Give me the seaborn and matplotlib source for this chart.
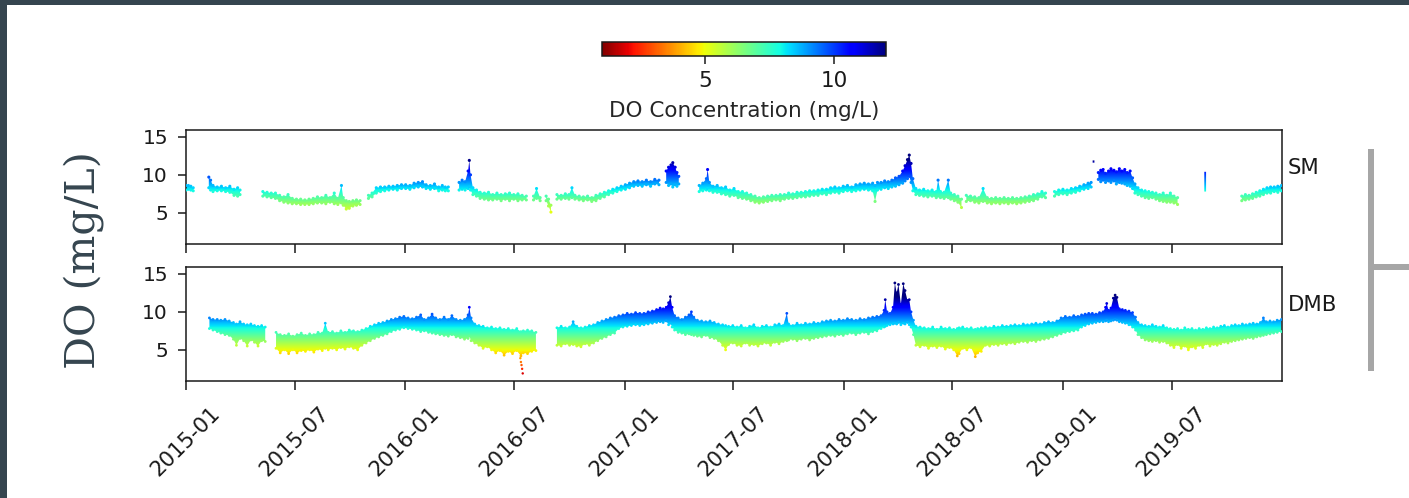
import numpy as np
import pandas as pd
import matplotlib
matplotlib.use("Agg")
import matplotlib.pyplot as plt
import matplotlib.dates as mdates
from matplotlib.colors import Normalize
from matplotlib.cm import ScalarMappable
from matplotlib.path import Path
from matplotlib.patches import Rectangle
import seaborn as sns

START = pd.Timestamp("2015-01-01")

# ---------------- SM station: daily low / high DO (days since 2015-01-01) ----------------
sm_day = [0, 4, 8, 12,
          38, 41, 45, 52, 59, 66, 73, 80, 86, 90,
          128, 135, 142, 149, 156, 163, 170, 177, 184, 191, 198, 205, 212, 219, 226, 233,
          240, 247, 253, 259, 262, 267, 272, 278, 284, 290,
          304, 310, 317, 324, 331, 338, 345, 352, 359, 366, 373, 380, 387, 394, 400, 407,
          414, 421, 427, 432, 437,
          455, 460, 465, 470, 472, 474, 478, 484, 490, 497, 504, 511, 518, 525, 532, 539,
          546, 553, 560, 567,
          579, 584, 590,
          600, 604, 608,
          618, 625, 632, 638, 643, 648, 655, 662, 669, 676, 683, 690, 697, 704, 711, 718,
          725, 732, 739, 746, 753, 760, 767, 774, 781, 788,
          800, 804, 808, 811, 815, 818, 821,
          855, 861, 867, 869, 872, 878, 885, 892, 899, 906, 913, 920, 927, 934, 941, 948,
          955, 962, 969, 976, 983, 990, 997, 1004, 1011, 1018, 1025, 1032, 1039, 1046,
          1053, 1060, 1067, 1074, 1081, 1088, 1095, 1102, 1109, 1116, 1123, 1130, 1137,
          1144, 1148, 1152, 1158, 1164, 1170, 1176, 1182, 1188, 1194, 1198, 1202, 1205,
          1208, 1211, 1216, 1222, 1229, 1236, 1243, 1250, 1253, 1257, 1263, 1270, 1274,
          1280, 1286, 1292,
          1300, 1307, 1314, 1321, 1328, 1335, 1342, 1349, 1356, 1363, 1370, 1377, 1384,
          1391, 1398, 1405, 1412, 1419, 1426, 1432,
          1447, 1454, 1461, 1468, 1475, 1482, 1489, 1496, 1503, 1508,
          1520, 1524, 1528, 1532, 1537, 1541, 1546, 1550, 1555, 1559, 1564, 1568, 1573,
          1577, 1581, 1586, 1592, 1598, 1604, 1610, 1616, 1622, 1628, 1634, 1640, 1646, 1652,
          1759, 1765, 1771, 1777, 1783, 1789, 1795, 1801, 1807, 1813, 1819, 1825]
sm_lo = [8.0, 8.1, 8.0, 7.9,
         8.3, 8.0, 7.8, 7.9, 7.9, 7.8, 7.7, 7.3, 7.2, 7.4,
         7.2, 7.1, 7.0, 6.9, 6.6, 6.4, 6.3, 6.2, 6.2, 6.1, 6.1, 6.1, 6.2, 6.3, 6.3, 6.2,
         6.4, 6.2, 6.1, 6.3, 6.0, 5.5, 5.6, 5.9, 6.0, 6.1,
         6.9, 7.1, 7.6, 7.8, 7.9, 8.0, 8.1, 8.0, 8.2, 8.2, 8.1, 8.3, 8.4, 8.4, 8.2, 8.1,
         8.2, 7.9, 8.0, 7.9, 7.9,
         8.0, 8.1, 8.0, 8.2, 8.4, 8.0, 7.4, 7.2, 6.9, 6.8, 6.7, 6.7, 6.8, 6.6, 6.8, 6.6,
         6.8, 6.6, 6.7, 6.7,
         6.7, 6.9, 6.6,
         6.6, 5.9, 5.1,
         6.8, 6.8, 6.9, 6.8, 7.0, 6.8, 6.7, 6.6, 6.7, 6.5, 6.6, 6.9, 7.1, 7.4, 7.6, 7.8,
         8.0, 8.1, 8.3, 8.5, 8.6, 8.5, 8.7, 8.5, 8.8, 8.7,
         9.0, 8.6, 8.8, 8.4, 8.7, 8.5, 8.8,
         7.8, 7.9, 8.0, 8.2, 7.9, 7.7, 7.7, 7.5, 7.4, 7.2, 7.3, 7.0, 6.9, 6.8, 6.6, 6.4,
         6.3, 6.4, 6.5, 6.6, 6.7, 6.6, 6.8, 6.9, 6.9, 7.0, 7.1, 7.1, 7.2, 7.3,
         7.3, 7.5, 7.4, 7.6, 7.7, 7.6, 7.8, 7.9, 7.8, 7.9, 8.0, 8.1, 8.0,
         7.9, 6.5, 8.0, 8.1, 8.3, 8.2, 8.4, 8.5, 8.7, 8.9, 9.2, 9.5, 9.8,
         9.0, 7.9, 7.4, 7.3, 7.2, 7.1, 7.2, 7.0, 7.2, 7.0, 6.9, 7.0, 6.8,
         6.6, 6.4, 5.7,
         6.5, 6.6, 6.4, 6.3, 6.5, 6.3, 6.2, 6.3, 6.2, 6.3, 6.2, 6.3, 6.2,
         6.3, 6.4, 6.5, 6.6, 6.8, 7.1, 7.0,
         7.2, 7.4, 7.5, 7.4, 7.6, 7.7, 7.9, 8.1, 8.2, 8.4,
         9.4, 9.1, 9.3, 9.0, 9.2, 9.0, 9.2, 8.8, 9.0, 8.9, 8.8, 8.6, 8.5,
         8.2, 7.6, 7.4, 7.2, 7.0, 6.9, 7.0, 6.8, 6.6, 6.5, 6.4, 6.4, 6.3, 6.1,
         6.6, 6.7, 6.8, 6.9, 7.1, 7.2, 7.4, 7.6, 7.6, 7.8, 7.7, 7.9]
sm_hi = [8.6, 8.6, 8.5, 8.3,
         9.7, 9.3, 8.6, 8.4, 8.5, 8.3, 8.5, 8.1, 8.3, 8.0,
         7.8, 7.7, 7.6, 7.6, 7.3, 7.1, 7.4, 6.9, 6.8, 6.8, 6.7, 6.8, 6.9, 7.1, 7.0, 7.3,
         7.0, 7.6, 6.9, 8.6, 7.0, 6.6, 6.5, 6.6, 6.7, 6.6,
         7.3, 7.6, 8.3, 8.4, 8.4, 8.5, 8.5, 8.6, 8.7, 8.7, 8.6, 8.9, 9.0, 9.1, 8.7, 8.6,
         8.8, 8.4, 8.6, 8.4, 8.4,
         9.0, 9.3, 9.1, 10.5, 11.9, 10.0, 8.3, 8.0, 7.7, 7.6, 7.7, 7.4, 7.6, 7.4, 7.5, 7.6,
         7.4, 7.5, 7.3, 7.2,
         7.2, 8.2, 7.0,
         7.2, 6.8, 6.0,
         7.4, 7.3, 7.5, 7.4, 8.3, 7.3, 7.2, 7.1, 7.2, 7.0, 7.3, 7.5, 7.7, 7.9, 8.1, 8.3,
         8.5, 8.7, 8.9, 9.1, 9.2, 9.1, 9.3, 9.1, 9.4, 9.3,
         10.5, 11.0, 11.3, 11.6, 11.0, 10.3, 9.8,
         8.6, 8.9, 9.5, 10.7, 9.0, 8.5, 8.6, 8.3, 8.4, 8.0, 8.2, 7.8, 7.8, 7.6, 7.4, 7.2,
         7.0, 7.1, 7.2, 7.3, 7.3, 7.4, 7.4, 7.6, 7.5, 7.7, 7.7, 7.8, 7.9, 7.9,
         8.0, 8.1, 8.1, 8.3, 8.4, 8.3, 8.5, 8.6, 8.4, 8.7, 8.8, 8.9, 8.8,
         8.9, 8.6, 9.0, 9.0, 9.2, 9.1, 9.3, 9.6, 9.8, 10.5, 11.2, 12.0, 12.6,
         11.5, 9.5, 8.2, 8.0, 8.1, 7.9, 8.0, 7.8, 9.3, 7.8, 7.7, 9.3, 7.6,
         7.4, 7.2, 6.8,
         7.3, 7.2, 7.1, 7.0, 8.2, 7.0, 6.9, 7.0, 6.9, 7.0, 6.9, 7.0, 6.9,
         7.0, 7.1, 7.2, 7.4, 7.5, 7.8, 7.6,
         7.8, 8.0, 8.1, 8.0, 8.2, 8.3, 8.5, 8.7, 8.9, 9.0,
         10.3, 10.6, 10.7, 10.2, 10.5, 10.8, 10.6, 10.4, 10.8, 10.5, 10.7, 10.3, 10.5,
         9.6, 8.8, 8.3, 8.0, 7.9, 7.8, 7.7, 7.6, 7.4, 7.6, 7.3, 7.6, 7.2, 7.0,
         7.2, 7.4, 7.3, 7.5, 7.7, 7.9, 8.1, 8.3, 8.4, 8.4, 8.5, 8.6]
# isolated SM readings (single short bursts)
sm_spike_day = [1512, 1698]
sm_spike_lo = [11.6, 7.8]
sm_spike_hi = [11.9, 10.4]

# ---------------- DMB station ----------------
dmb_day = [39, 45, 52, 58, 65, 72, 79, 84, 90, 96, 102, 108, 114, 120, 126, 132,
           150, 157, 164, 171, 178, 185, 192, 199, 206, 213, 220, 227, 232, 237, 244, 251,
           258, 265, 272, 279, 286, 293, 300, 307, 314, 321, 328, 335, 342, 349, 356, 363,
           370, 377, 384, 391, 397, 404, 410, 416, 423, 430, 437, 443, 450, 457, 464, 470,
           472, 475, 481, 488, 495, 502, 509, 516, 523, 530, 537, 544, 551, 558, 562, 569,
           576, 583,
           618, 625, 632, 639, 645, 651, 658, 665, 672, 679, 686, 693, 700, 707, 714, 721,
           728, 735, 742, 749, 756, 763, 770, 777, 784, 790, 795, 800, 804, 807, 810, 814,
           820, 826, 832, 838, 842, 846, 852, 859, 866, 873, 880, 887, 894, 899, 904, 911,
           918, 925, 932, 939, 946, 953, 960, 967, 974, 981, 988, 995, 1001, 1004, 1011,
           1018, 1025, 1032, 1039, 1046, 1053, 1060, 1067, 1074, 1081, 1088, 1095, 1102,
           1109, 1116, 1123, 1130, 1137, 1144, 1151, 1158, 1163, 1165, 1168, 1173, 1178,
           1181, 1184, 1187, 1191, 1195, 1198, 1202, 1205, 1208, 1212, 1216, 1223, 1230,
           1237, 1244, 1251, 1258, 1265, 1272, 1279, 1285, 1288, 1294, 1301, 1308, 1315,
           1319, 1325, 1332, 1339, 1346, 1353, 1360, 1367, 1374, 1381, 1388, 1395, 1402,
           1409, 1416, 1423, 1430, 1437, 1444, 1451, 1458, 1465, 1472, 1479, 1486, 1492,
           1498, 1504, 1510, 1516, 1522, 1528, 1532, 1534, 1537, 1541, 1545, 1548, 1551,
           1555, 1560, 1565, 1571, 1577, 1582, 1586, 1592, 1598, 1604, 1610, 1616, 1622,
           1628, 1634, 1640, 1646, 1652, 1658, 1664, 1670, 1676, 1682, 1688, 1694, 1700,
           1706, 1712, 1718, 1724, 1730, 1736, 1742, 1748, 1754, 1760, 1766, 1772, 1778,
           1784, 1790, 1795, 1800, 1806, 1812, 1818, 1825]
dmb_lo = [7.8, 7.6, 7.4, 7.2, 7.0, 6.9, 6.4, 5.6, 6.5, 6.2, 5.5, 6.3, 6.0, 5.5, 6.2, 6.1,
          5.2, 4.6, 5.0, 4.5, 5.0, 4.6, 4.9, 4.8, 5.0, 4.7, 5.1, 4.9, 5.2, 5.0, 5.2, 5.0,
          5.3, 5.1, 5.4, 5.2, 5.0, 5.6, 5.9, 6.2, 6.5, 6.7, 6.9, 7.1, 7.4, 7.6, 7.7, 7.9,
          7.8, 7.7, 7.6, 7.4, 7.5, 7.3, 7.2, 7.1, 7.0, 6.9, 6.8, 7.0, 6.7, 6.6, 6.4, 6.5,
          6.8, 6.2, 5.9, 5.6, 5.2, 5.4, 5.0, 4.6, 4.9, 4.3, 4.8, 4.5, 4.9, 4.2, 4.6, 4.5,
          4.8, 4.9,
          5.6, 5.5, 5.8, 5.6, 5.7, 5.5, 5.4, 5.8, 5.6, 5.9, 6.2, 6.5, 6.7, 7.0, 7.2, 7.8,
          8.0, 8.1, 8.2, 8.3, 8.2, 8.3, 8.4, 8.5, 8.6, 8.7, 8.6, 8.8, 8.3, 8.5, 8.0, 7.6,
          7.3, 7.2, 7.0, 7.1, 7.0, 6.9, 6.8, 6.7, 6.9, 6.6, 6.5, 6.2, 5.6, 5.0, 5.7, 5.9,
          5.6, 5.5, 5.9, 5.6, 5.7, 5.5, 5.8, 5.9, 5.6, 6.0, 5.8, 6.1, 6.2, 6.3, 6.4,
          6.2, 6.4, 6.5, 6.3, 6.5, 6.6, 6.7, 6.8, 6.9, 6.8, 7.0, 6.9, 7.1,
          7.2, 7.0, 7.2, 7.3, 7.1, 7.4, 7.5, 7.8, 8.0, 8.1, 8.2, 8.3, 8.4,
          8.5, 8.4, 8.6, 8.3, 8.5, 8.4, 8.6, 8.3, 8.0, 7.0, 5.6, 5.4, 5.6,
          5.2, 5.5, 5.3, 5.5, 5.1, 5.3, 5.0, 4.2, 4.5, 5.2, 5.0, 5.3, 4.1,
          4.6, 4.8, 5.6, 5.5, 5.7, 5.6, 5.8, 5.7, 5.9, 5.8, 6.0, 6.1, 6.0,
          6.2, 6.1, 6.3, 6.4, 6.5, 6.7, 6.9, 7.1, 7.3, 7.4, 7.5, 7.6, 8.0,
          8.2, 8.4, 8.5, 8.6, 8.7, 8.7, 8.8, 8.9, 8.7, 8.8, 8.9, 9.0, 8.9,
          8.7, 8.6, 8.5, 8.3, 8.0, 7.6, 7.0, 6.6, 6.3, 6.2, 6.1, 6.2, 6.0,
          6.1, 5.9, 5.6, 5.3, 5.7, 5.2, 5.5, 5.0, 5.4, 5.2, 5.6, 5.3, 5.8,
          5.5, 5.7, 5.6, 5.8, 6.0, 5.9, 6.1, 6.2, 6.3, 6.4, 6.5, 6.6, 6.5,
          6.7, 6.8, 6.9, 7.0, 7.1, 7.2, 7.3, 7.4]
dmb_hi = [9.2, 9.0, 9.0, 8.9, 9.0, 8.8, 8.6, 8.4, 8.7, 8.4, 8.3, 8.4, 8.2, 8.1, 8.2, 8.0,
          7.3, 7.0, 6.9, 7.1, 6.8, 7.0, 7.2, 6.9, 7.1, 7.0, 7.3, 7.2, 8.5, 7.3, 7.4, 7.2,
          7.5, 7.3, 7.6, 7.5, 7.4, 7.6, 7.8, 8.1, 8.3, 8.5, 8.6, 8.8, 9.0, 9.1, 9.3, 9.4,
          9.2, 9.1, 9.3, 9.6, 9.0, 9.2, 9.7, 9.2, 9.0, 9.3, 9.0, 9.5, 9.0, 8.9, 9.0, 9.6,
          10.6, 9.2, 8.4, 8.2, 8.1, 7.9, 8.0, 7.8, 7.9, 7.7, 7.8, 7.6, 7.8, 7.4, 7.5, 7.6,
          7.5, 7.3,
          7.9, 8.1, 7.9, 8.0, 8.7, 8.1, 7.9, 8.0, 8.2, 8.3, 8.6, 8.8, 9.0, 9.2, 9.3, 9.5,
          9.6, 9.8, 9.7, 9.9, 9.8, 9.8, 10.0, 10.1, 10.3, 10.5, 10.4, 10.6, 11.2, 12.0,
          10.6, 9.5,
          9.2, 9.0, 9.3, 9.6, 10.0, 9.3, 8.9, 8.8, 8.7, 8.8, 8.6, 8.4, 8.3, 8.2, 8.1, 8.2,
          8.0, 8.2, 7.9, 8.1, 8.3, 7.9, 8.1, 8.2, 8.0, 8.3, 8.4, 8.2, 9.8, 8.4, 8.2,
          8.5, 8.3, 8.5, 8.4, 8.6, 8.5, 8.7, 8.8, 8.9, 8.8, 9.0, 8.9, 9.1,
          9.0, 8.9, 9.1, 9.0, 9.2, 9.3, 9.4, 9.5, 10.2, 11.6, 10.0, 9.8, 10.6,
          13.8, 12.5, 13.6, 11.0, 13.7, 12.8, 11.5, 11.6, 10.0, 8.9, 8.1, 8.0, 7.9,
          7.8, 8.0, 7.7, 8.0, 7.8, 7.9, 7.7, 7.8, 7.9, 8.0, 7.8, 7.9, 7.7,
          7.8, 7.9, 8.0, 7.9, 8.1, 8.0, 8.2, 8.1, 8.2, 8.3, 8.2, 8.4, 8.3,
          8.4, 8.5, 8.4, 8.6, 8.7, 8.6, 8.8, 9.2, 9.4, 9.3, 9.5, 9.4, 9.6,
          9.7, 9.8, 9.8, 9.7, 9.9, 10.0, 10.6, 11.1, 10.2, 10.5, 11.8, 12.2, 11.9,
          10.4, 10.3, 10.2, 10.1, 9.9, 9.3, 8.6, 8.3, 8.2, 8.1, 8.3, 8.1, 8.0,
          8.2, 7.9, 7.8, 7.7, 7.8, 7.6, 7.9, 7.7, 7.8, 7.6, 7.8, 7.7, 7.9,
          7.8, 8.0, 7.9, 8.1, 8.2, 8.0, 8.2, 8.3, 8.2, 8.4, 8.3, 8.4, 8.5,
          8.4, 8.6, 9.2, 8.7, 8.8, 8.7, 8.9, 9.0]
# scattered low readings during the mid-2016 sag
dmb_dot_day = [557, 558, 559, 560, 561]
dmb_dot_val = [3.9, 3.4, 3.0, 2.5, 1.9]

station_names = ["SM", "DMB"]
cbar_ticks = [5, 10]
cbar_label = "DO Concentration (mg/L)"
side_label = "DO (mg/L)"
x_tick_dates = pd.date_range("2015-01-01", "2019-07-01", freq="6MS")
y_ticks = [5, 10, 15]

# ---------------- styling ----------------
sns.set_style("ticks")
plt.rcParams.update({
    "font.family": ["DejaVu Sans"],
    "axes.linewidth": 1.1,
    "axes.edgecolor": "#1a1a1a",
    "xtick.major.size": 6.5, "ytick.major.size": 6.0,
    "xtick.major.width": 1.1, "ytick.major.width": 1.1,
    "xtick.major.pad": 9.0, "ytick.major.pad": 7.0,
    "xtick.color": "#1a1a1a", "ytick.color": "#1a1a1a",
    "text.color": "#1a1a1a",
})
FS_Y = 14.5
FS = 15.3
SLATE = "#35454f"
CMAP = plt.get_cmap("jet_r")
NORM = Normalize(vmin=1, vmax=12)
YLIM = (0.9, 15.9)
XLIM = (pd.Timestamp("2015-01-01"), pd.Timestamp("2020-01-01"))
GAP = 7.5
BURST_HALF_WIDTH = 1.5   # days on each side of an isolated burst

W, H = 1409, 498
fig = plt.figure(figsize=(W / 100, H / 100), dpi=100)
fig.patch.set_facecolor("white")


def fx(px):
    return px / W


def fy(py):
    return 1 - py / H


def to_dates(day):
    return START + pd.to_timedelta(np.asarray(day, float), unit="D")


def draw_band(ax, day, lo, hi, burst_day=(), burst_lo=(), burst_hi=(), size=5):
    day = np.asarray(day, float)
    lo = np.asarray(lo, float)
    hi = np.asarray(hi, float)
    dates = to_dates(day)
    cuts = np.where(np.diff(day) > GAP)[0] + 1
    paths = []
    for idx in np.split(np.arange(len(day)), cuts):
        if len(idx) < 2:
            continue
        poly = ax.fill_between(dates[idx], lo[idx], hi[idx],
                               facecolor="none", edgecolor="none")
        paths.extend(poly.get_paths())
    # short isolated bursts: narrow columns spanning their low..high readings
    for d, b_lo, b_hi in zip(burst_day, burst_lo, burst_hi):
        xc = mdates.date2num(to_dates([d])[0])
        xa, xb = xc - BURST_HALF_WIDTH, xc + BURST_HALF_WIDTH
        paths.append(Path([(xa, b_lo), (xb, b_lo), (xb, b_hi), (xa, b_hi), (xa, b_lo)],
                          closed=True))
    # colour by value: vertical gradient clipped to the band
    x0, x1 = mdates.date2num([XLIM[0], XLIM[1]])
    grad = np.linspace(YLIM[0], YLIM[1], 800).reshape(-1, 1)
    im = ax.imshow(grad, extent=(x0, x1, YLIM[0], YLIM[1]), origin="lower",
                   aspect="auto", cmap=CMAP, norm=NORM, interpolation="bilinear",
                   zorder=2)
    im.set_clip_path(Path.make_compound_path(*paths), transform=ax.transData)
    # grainy band edges
    edges = pd.DataFrame({
        "date": np.concatenate([dates, dates]),
        "do": np.concatenate([lo, hi]),
    })
    sns.scatterplot(data=edges, x="date", y="do", hue="do", palette=CMAP,
                    hue_norm=NORM, s=size, linewidth=0, legend=False, ax=ax,
                    zorder=3)


axes = []
tops = [130, 267]
for i, name in enumerate(station_names):
    top = tops[i]
    ax = fig.add_axes([fx(186), fy(top + 114), fx(1282) - fx(186), 114 / H])
    axes.append(ax)

# SM
draw_band(axes[0], sm_day, sm_lo, sm_hi,
          burst_day=sm_spike_day, burst_lo=sm_spike_lo, burst_hi=sm_spike_hi, size=5)

# DMB
draw_band(axes[1], dmb_day, dmb_lo, dmb_hi, size=4)
dots = pd.DataFrame({"date": to_dates(dmb_dot_day), "do": dmb_dot_val})
sns.scatterplot(data=dots, x="date", y="do", hue="do", palette=CMAP, hue_norm=NORM,
                s=3, linewidth=0, legend=False, ax=axes[1], zorder=3)

for i, ax in enumerate(axes):
    ax.set_xlim(*XLIM)
    ax.set_ylim(*YLIM)
    ax.set_aspect("auto")
    ax.set_yticks(y_ticks)
    ax.tick_params(axis="y", labelsize=FS_Y)
    ax.set_xticks(x_tick_dates)
    ax.xaxis.set_major_formatter(mdates.DateFormatter("%Y-%m"))
    ax.set_xlabel("")
    ax.set_ylabel("")
    for s in ax.spines.values():
        s.set_visible(True)
    ax.text(1.005, 0.67, station_names[i], transform=ax.transAxes,
            ha="left", va="center", fontsize=FS)

axes[0].tick_params(axis="x", labelbottom=False)
axes[1].tick_params(axis="x", labelsize=FS)
for lab in axes[1].get_xticklabels():
    lab.set_rotation(45)
    lab.set_ha("center")

# colour bar
cax = fig.add_axes([fx(602), fy(56), fx(886) - fx(602), 14 / H])
cb = fig.colorbar(ScalarMappable(norm=NORM, cmap=CMAP), cax=cax,
                  orientation="horizontal", ticks=cbar_ticks)
cb.ax.tick_params(labelsize=15.5, length=6, width=1.1, pad=5)
cb.outline.set_linewidth(1.1)
cb.set_label(cbar_label, fontsize=15.5, labelpad=7)

# slide frame, side title and bracket
fig.add_artist(Rectangle((0, fy(5)), 1, 5 / H, transform=fig.transFigure,
                         facecolor=SLATE, edgecolor="none"))
fig.add_artist(Rectangle((0, 0), fx(7), 1, transform=fig.transFigure,
                         facecolor=SLATE, edgecolor="none"))
fig.text(fx(84), fy(260), side_label, rotation=90, ha="center", va="center",
         fontsize=29.5, family=["DejaVu Serif"], color=SLATE)
fig.add_artist(Rectangle((fx(1368), fy(371)), 6 / W, 222 / H, transform=fig.transFigure,
                         facecolor="#a6a6a6", edgecolor="none"))
fig.add_artist(Rectangle((fx(1368), fy(270)), fx(1409) - fx(1368), 6 / H,
                         transform=fig.transFigure, facecolor="#a6a6a6",
                         edgecolor="none"))

fig.savefig("out.png", dpi=100)
